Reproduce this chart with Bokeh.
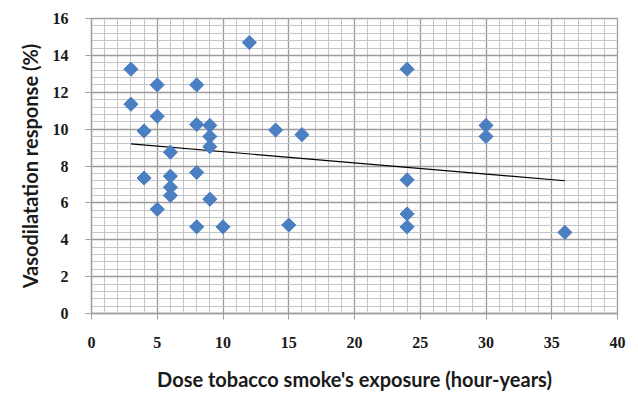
import math
from bokeh.plotting import figure
from bokeh.models import Range1d, SingleIntervalTicker
from bokeh.embed import file_html
from bokeh.resources import INLINE

# Data
exposure = [12, 3, 5, 8, 3, 5, 4, 8, 9, 9, 9, 6, 14, 16, 24,
            4, 6, 8, 6, 6, 9, 5, 8, 10, 15, 24, 24, 24, 30, 30, 36]
response = [14.7, 13.25, 12.4, 12.4, 11.35, 10.7, 9.9, 10.25, 10.2, 9.6, 9.05, 8.75, 9.95, 9.7, 13.25,
            7.35, 7.45, 7.65, 6.85, 6.4, 6.2, 5.65, 4.7, 4.7, 4.8, 7.25, 5.4, 4.7, 10.2, 9.6, 4.4]
trend_x = [3, 36]
trend_y = [9.2, 7.2]

p = figure(width=630, height=393, output_backend="svg", toolbar_location=None,
           x_range=Range1d(0, 40), y_range=Range1d(0, 16),
           min_border_left=91, min_border_right=13, min_border_top=18, min_border_bottom=79)

p.xaxis.ticker = SingleIntervalTicker(interval=5, num_minor_ticks=5)
p.yaxis.ticker = SingleIntervalTicker(interval=2, num_minor_ticks=5)

for g in (p.xgrid, p.ygrid):
    g.grid_line_color = "#9c9c9c"
    g.grid_line_width = 1.3
    g.minor_grid_line_color = "#bfc7cc"
    g.minor_grid_line_width = 1

p.outline_line_color = "#a0a0a0"
p.outline_line_width = 1.3
p.background_fill_color = "#fffdfc"

for ax in (p.xaxis, p.yaxis):
    ax.axis_line_color = "#a0a0a0"
    ax.axis_line_width = 1.3
    ax.major_tick_line_color = "#a0a0a0"
    ax.major_tick_out = 6
    ax.major_tick_in = 0
    ax.minor_tick_out = 0
    ax.minor_tick_in = 0
    ax.major_label_text_font = "Liberation Serif"
    ax.major_label_text_font_style = "bold"
    ax.major_label_text_font_size = "16px"
    ax.major_label_text_color = "#1a1a1a"
    ax.axis_label_text_font = "Lato"
    ax.axis_label_text_font_style = "bold"
    ax.axis_label_text_font_size = "20px"
    ax.axis_label_text_color = "#1a1a1a"

p.xaxis.axis_label = "Dose tobacco smoke's exposure (hour-years)"
p.yaxis.axis_label = "Vasodilatation response (%)"
p.xaxis.major_label_standoff = 17
p.xaxis.axis_label_standoff = 16
p.yaxis.major_label_standoff = 17
p.yaxis.axis_label_standoff = 8

p.line(trend_x, trend_y, line_color="black", line_width=1.2)
p.scatter(exposure, response, marker="square", size=10, angle=math.pi / 4,
          fill_color="#4a7fc1", line_color="#4a7fc1")

open("out.html", "w").write(file_html(p, INLINE))
